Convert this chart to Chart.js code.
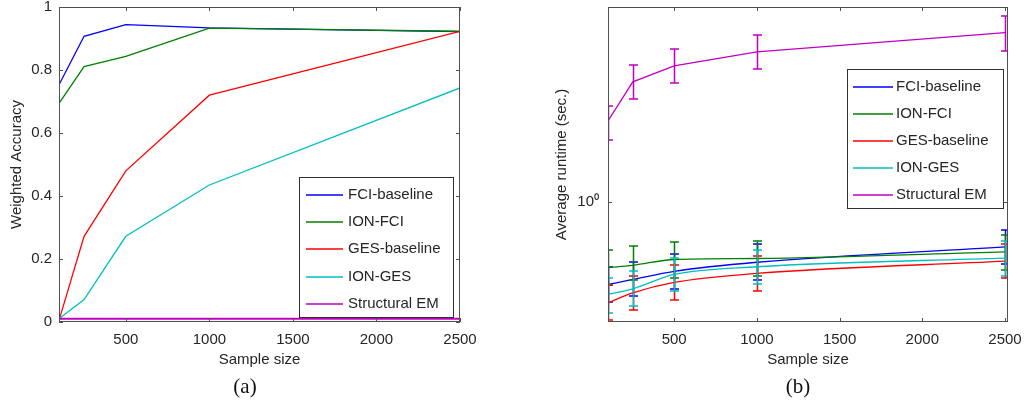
<!DOCTYPE html>
<html>
<head>
<meta charset="utf-8">
<script src="https://cdn.jsdelivr.net/npm/chart.js@4.4.1/dist/chart.umd.min.js"></script>
<style>
  html, body { margin: 0; padding: 0; background: #fff; }
  #wrap { position: relative; width: 1025px; height: 402px; overflow: hidden; }
  canvas { position: absolute; top: 0; }
  #chartA { left: 0; }
  #chartB { left: 512px; }
  .cap { position: absolute; top: 374px; font-family: "Liberation Serif", "DejaVu Serif", serif; font-size: 21px; color: #111; transform: translateX(-50%); }
</style>
</head>
<body>
<div id="wrap">
  <canvas id="chartA" width="512" height="402"></canvas>
  <canvas id="chartB" width="513" height="402"></canvas>
  <div class="cap" style="left:245px">(a)</div>
  <div class="cap" style="left:798px">(b)</div>
</div>
<script>
const seriesNames = ['FCI-baseline', 'ION-FCI', 'GES-baseline', 'ION-GES', 'Structural EM'];
const seriesColors = ['#0000ff', '#008000', '#ff0000', '#00bfbf', '#c000c0'];
const sampleSizes = [100, 250, 500, 1000, 2500];
const xTicks = [500, 1000, 1500, 2000, 2500];
const accTicks = [0, 0.2, 0.4, 0.6, 0.8, 1];
const runtimeTicks = [1];

// (a) weighted accuracy
const accFci    = [0.753, 0.907, 0.944, 0.934, 0.922];
const accIonFci = [0.694, 0.811, 0.843, 0.933, 0.923];
const accGes    = [0.005, 0.272, 0.480, 0.720, 0.923];
const accIonGes = [0.010, 0.071, 0.272, 0.435, 0.743];
const accEm     = [0.010, 0.010, 0.010, 0.010, 0.010];

// (b) average runtime (sec.), with error bar ends
const rtFci      = [0.394, 0.417, 0.457, 0.506, 0.602];
const rtFciLo    = [0.325, 0.344, 0.375, 0.415, 0.495];
const rtFciHi    = [0.477, 0.505, 0.554, 0.620, 0.727];
const rtIonFci   = [0.477, 0.489, 0.522, 0.528, 0.569];
const rtIonFciLo = [0.392, 0.413, 0.426, 0.434, 0.466];
const rtIonFciHi = [0.580, 0.607, 0.637, 0.642, 0.692];
const rtGes      = [0.320, 0.358, 0.403, 0.446, 0.512];
const rtGesLo    = [0.263, 0.296, 0.332, 0.368, 0.423];
const rtGesHi    = [0.390, 0.434, 0.488, 0.542, 0.620];
const rtIonGes   = [0.353, 0.375, 0.441, 0.481, 0.530];
const rtIonGesLo = [0.286, 0.308, 0.364, 0.398, 0.434];
const rtIonGesHi = [0.426, 0.456, 0.531, 0.584, 0.644];
const rtEm       = [2.49, 3.87, 4.63, 5.42, 6.74];
const rtEmLo     = [2.01, 3.18, 3.80, 4.46, 5.50];
const rtEmHi     = [2.94, 4.66, 5.58, 6.59, 8.16];

const FONT = '"Liberation Sans", Arial, Helvetica, sans-serif';
const TEXT = '#262626';
const AXIS = '#505050';

// axes box and inward tick marks, matlab style
const boxAxes = {
    id: 'boxAxes',
    afterDraw(chart) {
        const {ctx, chartArea: a, scales} = chart;
        ctx.save();
        ctx.strokeStyle = AXIS;
        ctx.lineWidth = 1;
        ctx.beginPath();
        scales.x.ticks.forEach(t => {
            const px = Math.round(scales.x.getPixelForValue(t.value)) + 0.5;
            ctx.moveTo(px, a.bottom); ctx.lineTo(px, a.bottom - 4);
            ctx.moveTo(px, a.top); ctx.lineTo(px, a.top + 4);
        });
        scales.y.ticks.forEach(t => {
            const py = Math.round(scales.y.getPixelForValue(t.value)) + 0.5;
            ctx.moveTo(a.left, py); ctx.lineTo(a.left + 4, py);
            ctx.moveTo(a.right, py); ctx.lineTo(a.right - 4, py);
        });
        ctx.stroke();
        ctx.strokeRect(a.left + 0.5, a.top + 0.5, a.right - a.left - 1, a.bottom - a.top - 1);
        ctx.restore();
    }
};

// vertical error bars with caps
const errorBars = {
    id: 'errorBars',
    afterDatasetDraw(chart, args) {
        const ds = chart.data.datasets[args.index];
        if (!ds.lower) return;
        const {ctx, chartArea: a} = chart;
        const y = chart.scales.y;
        ctx.save();
        ctx.beginPath();
        ctx.rect(a.left, a.top, a.right - a.left, a.bottom - a.top);
        ctx.clip();
        ctx.strokeStyle = seriesColors[args.index];
        ctx.lineWidth = 1.5;
        ctx.beginPath();
        args.meta.data.forEach((pt, i) => {
            const x = Math.round(pt.x) + 0.5;
            const lo = Math.round(y.getPixelForValue(ds.lower[i]));
            const hi = Math.round(y.getPixelForValue(ds.upper[i]));
            ctx.moveTo(x, lo); ctx.lineTo(x, hi);
            ctx.moveTo(x - 4.5, lo); ctx.lineTo(x + 4.5, lo);
            ctx.moveTo(x - 4.5, hi); ctx.lineTo(x + 4.5, hi);
        });
        ctx.stroke();
        ctx.restore();
    }
};

// legend box drawn inside the plot
const boxLegend = {
    id: 'boxLegend',
    afterDraw(chart, args, opts) {
        const ctx = chart.ctx;
        ctx.save();
        ctx.fillStyle = '#fff';
        ctx.fillRect(opts.x, opts.y, opts.w, opts.h);
        ctx.strokeStyle = '#303030';
        ctx.lineWidth = 1;
        ctx.strokeRect(opts.x + 0.5, opts.y + 0.5, opts.w, opts.h);
        ctx.font = '15px ' + FONT;
        ctx.textBaseline = 'middle';
        seriesNames.forEach((name, i) => {
            const yy = Math.round(opts.y + opts.first + i * opts.step);
            ctx.lineWidth = 1.6;
            ctx.strokeStyle = seriesColors[i];
            ctx.beginPath();
            ctx.moveTo(opts.x + opts.lineFrom, yy);
            ctx.lineTo(opts.x + opts.lineTo, yy);
            ctx.stroke();
            ctx.fillStyle = TEXT;
            ctx.fillText(name, opts.x + opts.textAt, yy);
        });
        ctx.restore();
    }
};

function xScale(max) {
    return {
        type: 'linear',
        min: 100,
        max: max,
        grid: { display: false, drawTicks: false },
        border: { display: false },
        afterBuildTicks: s => { s.ticks = xTicks.map(v => ({ value: v })); },
        afterFit: s => { s.height = 80; s.paddingLeft = 0; s.paddingRight = 0; },
        ticks: {
            autoSkip: false, maxRotation: 0, padding: 9,
            color: TEXT, font: { family: FONT, size: 15 },
            callback: v => String(v)
        },
        title: {
            display: true, text: 'Sample size', color: TEXT,
            font: { family: FONT, size: 15 },
            padding: { top: 0, bottom: 33 }
        }
    };
}

function makeDatasets(values, lows, highs, smooth) {
    return seriesNames.map((name, i) => ({
        label: name,
        data: values[i].map((v, j) => ({ x: sampleSizes[j], y: v })),
        lower: lows ? lows[i] : null,
        upper: highs ? highs[i] : null,
        borderColor: seriesColors[i],
        backgroundColor: seriesColors[i],
        borderWidth: i === 4 && !lows ? 2 : 1.3,
        pointRadius: 0,
        fill: false,
        cubicInterpolationMode: smooth && i < 4 ? 'monotone' : 'default',
        order: 4 - i
    }));
}

new Chart(document.getElementById('chartA'), {
    type: 'line',
    data: {
        datasets: makeDatasets([accFci, accIonFci, accGes, accIonGes, accEm], null, null, false)
    },
    options: {
        responsive: false,
        animation: false,
        layout: { padding: { left: 0, top: 7, right: 52, bottom: 0 } },
        plugins: {
            legend: { display: false },
            tooltip: { enabled: false },
            boxLegend: { x: 299, y: 177, w: 154, h: 140, first: 18, step: 27.2, lineFrom: 7, lineTo: 44, textAt: 49 }
        },
        scales: {
            x: xScale(2500),
            y: {
                min: 0, max: 1,
                grid: { display: false, drawTicks: false },
                border: { display: false },
                afterBuildTicks: s => { s.ticks = accTicks.map(v => ({ value: v })); },
                afterFit: s => { s.width = 59; s.paddingTop = 0; s.paddingBottom = 0; },
                ticks: { padding: 7, color: TEXT, font: { family: FONT, size: 15 }, callback: v => String(v) },
                title: {
                    display: true, text: 'Weighted Accuracy', color: TEXT,
                    font: { family: FONT, size: 15 }, padding: { top: 8, bottom: 0 }
                }
            }
        }
    },
    plugins: [boxAxes, boxLegend]
});

new Chart(document.getElementById('chartB'), {
    type: 'line',
    data: {
        datasets: makeDatasets(
            [rtFci, rtIonFci, rtGes, rtIonGes, rtEm],
            [rtFciLo, rtIonFciLo, rtGesLo, rtIonGesLo, rtEmLo],
            [rtFciHi, rtIonFciHi, rtGesHi, rtIonGesHi, rtEmHi], true)
    },
    options: {
        responsive: false,
        animation: false,
        layout: { padding: { left: 0, top: 7, right: 17, bottom: 0 } },
        plugins: {
            legend: { display: false },
            tooltip: { enabled: false },
            boxLegend: { x: 335, y: 69, w: 156, h: 139, first: 18, step: 27, lineFrom: 6, lineTo: 46, textAt: 49 }
        },
        scales: {
            x: xScale(2518),
            y: {
                type: 'logarithmic',
                min: 0.258, max: 9,
                grid: { display: false, drawTicks: false },
                border: { display: false },
                afterBuildTicks: s => { s.ticks = runtimeTicks.map(v => ({ value: v })); },
                afterFit: s => { s.width = 96; s.paddingTop = 0; s.paddingBottom = 0; },
                ticks: { padding: 9, color: TEXT, font: { family: FONT, size: 15 }, callback: v => '10\u2070' },
                title: {
                    display: true, text: 'Average runtime (sec.)', color: TEXT,
                    font: { family: FONT, size: 15 }, padding: { top: 41, bottom: 0 }
                }
            }
        }
    },
    plugins: [boxAxes, errorBars, boxLegend]
});
</script>
</body>
</html>
